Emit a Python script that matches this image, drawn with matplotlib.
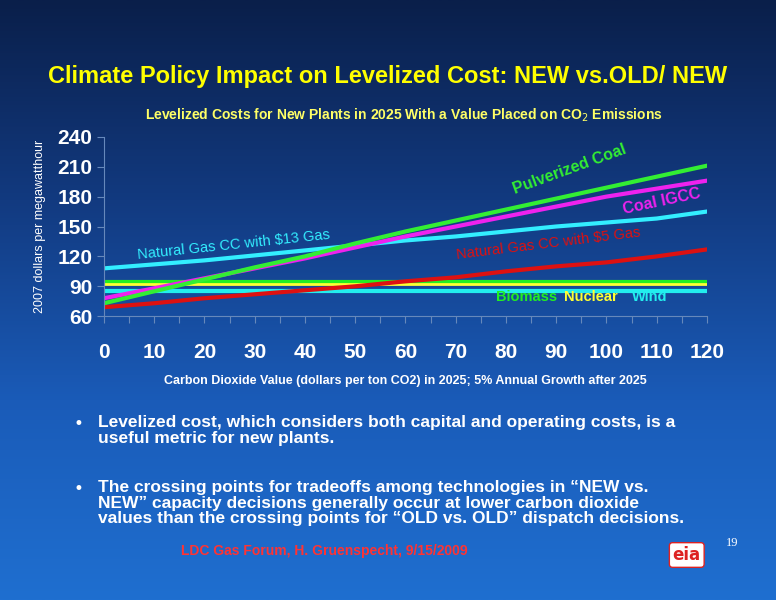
import matplotlib
matplotlib.use("Agg")
import matplotlib.pyplot as plt
import numpy as np
from matplotlib.colors import LinearSegmentedColormap

co2 = [0, 10, 20, 30, 40, 50, 60, 70, 80, 90, 100, 110, 120]
pulverized_coal = [73, 85, 97, 109, 120, 133, 145, 156, 167, 178, 189, 200, 211]
coal_igcc = [78, 88, 98, 108, 118, 129, 140, 150, 160, 170, 180, 188, 196]
ng13 = [108, 112, 116, 121, 126, 131, 136, 140, 145, 150, 154, 158, 165]
ng5 = [69, 73, 78, 82, 86, 90, 95, 99, 105, 110, 114, 120, 127]
biomass = [94] * 13
nuclear = [92] * 13
wind = [85] * 13
xticks = list(range(0, 121, 10))
yticks = [60, 90, 120, 150, 180, 210, 240]

NARROW = "Liberation Sans"
fig = plt.figure(figsize=(7.76, 6), dpi=100)
bg = fig.add_axes([0, 0, 1, 1], zorder=-10)
cmap = LinearSegmentedColormap.from_list("bg", ["#0a1f4a", "#123a80", "#1a5bb8", "#1f6fd0"])
grad = np.linspace(0, 1, 256).reshape(-1, 1)
bg.imshow(grad, aspect="auto", cmap=cmap, extent=[0, 1, 0, 1], origin="upper")
bg.set_axis_off()

fig.text(0.5, 0.872, "Climate Policy Impact on Levelized Cost: NEW vs.OLD/ NEW",
         ha="center", va="center", color="#ffff00", fontsize=17, fontweight="bold",
         family="Liberation Sans")
fig.text(0.52, 0.808, "Levelized Costs for New Plants in 2025 With a Value Placed on CO$_2$ Emissions",
         ha="center", va="center", color="#ffff66", fontsize=10, fontweight="bold",
         family=NARROW)

ax = fig.add_axes([0.134, 0.473, 0.777, 0.299])
ax.patch.set_alpha(0)
lw = 3
ax.plot(co2, biomass, color="#22ee22", lw=lw)
ax.plot(co2, nuclear, color="#ffff33", lw=2)
ax.plot(co2, wind, color="#22eeee", lw=lw)
ax.plot(co2, ng5, color="#dd1111", lw=lw)
ax.plot(co2, ng13, color="#33eeff", lw=lw)
ax.plot(co2, coal_igcc, color="#ee22ee", lw=lw)
ax.plot(co2, pulverized_coal, color="#33ee33", lw=lw)
ax.set_xlim(0, 120)
ax.set_ylim(60, 240)
ax.set_xticks(range(0, 121, 5))
ax.set_xticklabels([str(t) if t % 10 == 0 else "" for t in range(0, 121, 5)])
ax.set_yticks(yticks)
for s in ["top", "right"]:
    ax.spines[s].set_visible(False)
for s in ["left", "bottom"]:
    ax.spines[s].set_color("#6688bb")
ax.tick_params(colors="#6688bb", labelcolor="white", labelsize=15, length=5)
ax.tick_params(axis="x", pad=14)
for lab in ax.get_xticklabels() + ax.get_yticklabels():
    lab.set_fontweight("bold")
    lab.set_family(NARROW)
ax.set_ylabel("2007 dollars per megawatthour", color="white", fontsize=9, labelpad=8,
              family="Liberation Sans")
ax.set_xlabel("Carbon Dioxide Value (dollars per ton CO2) in 2025; 5% Annual Growth after 2025",
              color="white", fontsize=9, fontweight="bold", family=NARROW, labelpad=10)

ax.text(6.5, 117, "Natural Gas CC with $13 Gas", color="#33eeff", fontsize=10.5, rotation=6,
        family="Liberation Sans")
ax.text(81, 183, "Pulverized Coal", color="#33ee33", fontsize=11.5, fontweight="bold", rotation=20,
        family="Liberation Sans")
ax.text(103, 163, "Coal IGCC", color="#ee22ee", fontsize=11.5, fontweight="bold", rotation=12,
        family="Liberation Sans")
ax.text(70, 117, "Natural Gas CC with $5 Gas", color="#dd1111", fontsize=10.5, rotation=7,
        family="Liberation Sans")
ax.text(78, 79, "Biomass", color="#22ee22", fontsize=10.5, fontweight="bold", va="center",
        family="Liberation Sans")
ax.text(91.5, 79, "Nuclear", color="#ffff33", fontsize=10.5, fontweight="bold", va="center",
        family="Liberation Sans")
ax.text(105, 79, "Wind", color="#22eeee", fontsize=10.5, fontweight="bold", va="center",
        family="Liberation Sans")

b = [(0.308, "Levelized cost, which considers both capital and operating costs, is a\nuseful metric for new plants."),
     (0.200, "The crossing points for tradeoffs among technologies in \u201cNEW vs.\nNEW\u201d capacity decisions generally occur at lower carbon dioxide\nvalues than the crossing points for \u201cOLD vs. OLD\u201d dispatch decisions.")]
for y, t in b:
    fig.text(0.095, y, "•", color="white", fontsize=12, va="top")
    fig.text(0.126, y, t, color="white", fontsize=12.5, fontweight="bold", va="top",
             family="Liberation Sans", linespacing=1.05)

fig.text(0.418, 0.082, "LDC Gas Forum, H. Gruenspecht, 9/15/2009", ha="center", va="center",
         color="#ff3333", fontsize=10, fontweight="bold", family="Liberation Sans")
fig.text(0.935, 0.095, "19", color="white", fontsize=9, family="Liberation Serif", va="center")
fig.text(0.885, 0.075, "eia", color="#dd2222", fontsize=12, fontweight="bold", ha="center", va="center",
         bbox=dict(boxstyle="round,pad=0.2", fc="white", ec="#dd2222"))

fig.savefig("out.png", dpi=100)
